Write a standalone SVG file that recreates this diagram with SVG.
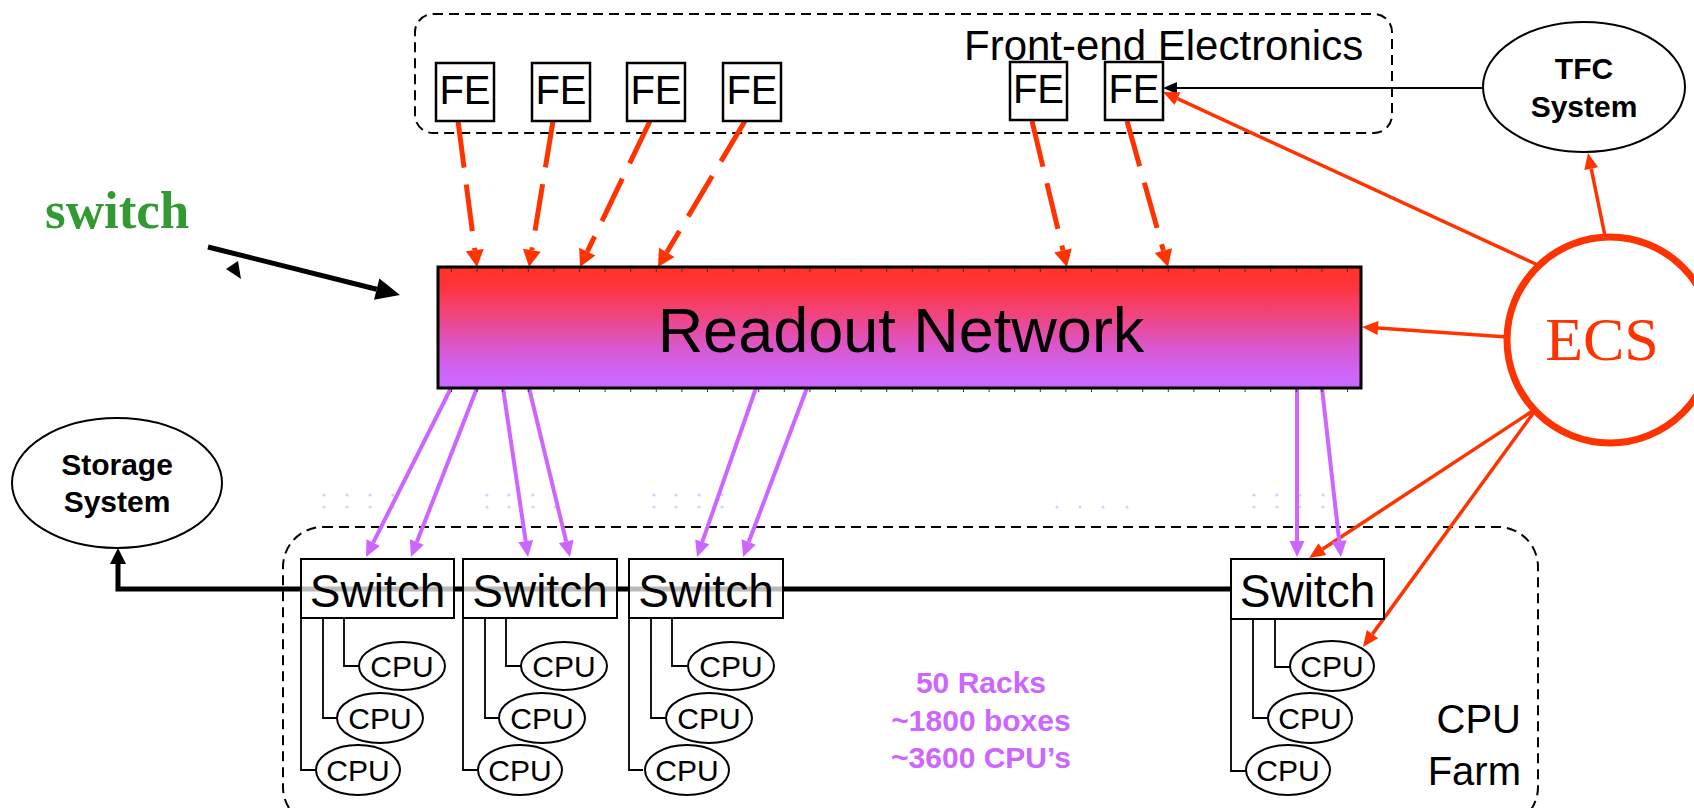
<svg xmlns="http://www.w3.org/2000/svg" width="1694" height="808" viewBox="0 0 1694 808">
<style>
.sans{font-family:"Liberation Sans",Arial,sans-serif}
.bold{font-family:"Liberation Sans",Arial,sans-serif;font-weight:bold}
.box{fill:#fff;stroke:#000;stroke-width:2}
.fe{fill:#fff;stroke:#000;stroke-width:2.5}
.sw{fill:#fff;fill-opacity:0.73;stroke:#000;stroke-width:2}
.cpu{fill:#fff;stroke:#000;stroke-width:2}
.wire{fill:none;stroke:#000;stroke-width:1.8}
.cont{fill:none;stroke:#000;stroke-width:2;stroke-dasharray:10 6}
.red{fill:none;stroke:#ff3300;stroke-width:3.5}
.reddash{fill:none;stroke:#ff3300;stroke-width:5;stroke-dasharray:47 17}
.vio{fill:none;stroke:#cc66ff;stroke-width:4}
.tick{stroke:#333;stroke-width:1}
.dot{fill:#e8c6ff}
.fetext{font-size:40px}
.swtext{font-size:46px}
.cputext{font-size:30px}
</style>
<defs>
<linearGradient id="rg" x1="0" y1="0" x2="0" y2="1">
<stop offset="0" stop-color="#ff3322"/>
<stop offset="0.12" stop-color="#ff3333"/>
<stop offset="0.4" stop-color="#f04480"/>
<stop offset="0.7" stop-color="#d65ad8"/>
<stop offset="0.9" stop-color="#cc66fa"/>
<stop offset="1" stop-color="#cc66ff"/>
</linearGradient>
<marker id="hRedBig" markerUnits="userSpaceOnUse" markerWidth="17" markerHeight="18" refX="0" refY="9" orient="auto" overflow="visible"><path d="M0,0 L17,9 L0,18 z" fill="#ff3300"/></marker>
<marker id="hRed" markerUnits="userSpaceOnUse" markerWidth="16" markerHeight="14" refX="0" refY="7" orient="auto" overflow="visible"><path d="M0,0 L16,7 L0,14 z" fill="#ff3300"/></marker>
<marker id="hVio" markerUnits="userSpaceOnUse" markerWidth="16" markerHeight="15" refX="0" refY="7.5" orient="auto" overflow="visible"><path d="M0,0 L16,7.5 L0,15 z" fill="#cc66ff"/></marker>
<marker id="hBlk" markerUnits="userSpaceOnUse" markerWidth="14" markerHeight="12" refX="0" refY="6" orient="auto" overflow="visible"><path d="M0,0 L14,6 L0,12 z" fill="#000"/></marker>
<marker id="hBlkMid" markerUnits="userSpaceOnUse" markerWidth="16" markerHeight="16" refX="0" refY="8" orient="auto" overflow="visible"><path d="M0,0 L16,8 L0,16 z" fill="#000"/></marker>
<marker id="hBlkBig" markerUnits="userSpaceOnUse" markerWidth="24" markerHeight="22" refX="0" refY="11" orient="auto" overflow="visible"><path d="M0,0 L24,11 L0,22 z" fill="#000"/></marker>
</defs>

<g id="frontend-container">
<rect class="cont" x="415" y="14" width="977" height="119" rx="18"/>
<text class="sans" x="964" y="60" font-size="42">Front-end Electronics</text>
</g>
<g id="cpufarm-container">
<rect class="cont" x="283" y="527" width="1255" height="300" rx="40"/>
<text class="sans" x="1521" y="733" font-size="40" text-anchor="end">CPU</text>
<text class="sans" x="1521" y="785" font-size="40" text-anchor="end">Farm</text>
</g>

<g id="faint-dots">
<circle class="dot" cx="324" cy="495" r="1.6"/><circle class="dot" cx="347" cy="495" r="1.6"/><circle class="dot" cx="370" cy="495" r="1.6"/><circle class="dot" cx="393" cy="495" r="1.6"/>
<circle class="dot" cx="324" cy="507" r="1.6"/><circle class="dot" cx="347" cy="507" r="1.6"/><circle class="dot" cx="370" cy="507" r="1.6"/><circle class="dot" cx="393" cy="507" r="1.6"/>
<circle class="dot" cx="487" cy="495" r="1.6"/><circle class="dot" cx="509" cy="495" r="1.6"/><circle class="dot" cx="533" cy="495" r="1.6"/><circle class="dot" cx="555" cy="495" r="1.6"/>
<circle class="dot" cx="487" cy="507" r="1.6"/><circle class="dot" cx="509" cy="507" r="1.6"/><circle class="dot" cx="533" cy="507" r="1.6"/><circle class="dot" cx="555" cy="507" r="1.6"/>
<circle class="dot" cx="654" cy="495" r="1.6"/><circle class="dot" cx="676" cy="495" r="1.6"/><circle class="dot" cx="699" cy="495" r="1.6"/><circle class="dot" cx="722" cy="495" r="1.6"/>
<circle class="dot" cx="654" cy="507" r="1.6"/><circle class="dot" cx="676" cy="507" r="1.6"/><circle class="dot" cx="699" cy="507" r="1.6"/><circle class="dot" cx="722" cy="507" r="1.6"/>
<circle class="dot" cx="1057" cy="507" r="1.6"/><circle class="dot" cx="1080" cy="507" r="1.6"/><circle class="dot" cx="1103" cy="507" r="1.6"/><circle class="dot" cx="1127" cy="507" r="1.6"/>
<circle class="dot" cx="1254" cy="495" r="1.6"/><circle class="dot" cx="1277" cy="495" r="1.6"/><circle class="dot" cx="1300" cy="495" r="1.6"/><circle class="dot" cx="1323" cy="495" r="1.6"/>
<circle class="dot" cx="1254" cy="507" r="1.6"/><circle class="dot" cx="1277" cy="507" r="1.6"/><circle class="dot" cx="1300" cy="507" r="1.6"/><circle class="dot" cx="1323" cy="507" r="1.6"/>
</g>

<g id="connectors">
<path d="M1232,589 H118 V564" fill="none" stroke="#000" stroke-width="5" marker-end="url(#hBlkMid)"/>
<line x1="208" y1="247" x2="376.7" y2="289.2" stroke="#000" stroke-width="5" marker-end="url(#hBlkBig)"/>
<polygon points="226,269 238,261 241,279" fill="#000"/>
<line class="reddash" x1="458" y1="121" x2="474.8" y2="250.1" marker-end="url(#hRedBig)"/>
<line class="reddash" x1="553" y1="121" x2="531.8" y2="250.2" marker-end="url(#hRedBig)"/>
<line class="reddash" x1="650" y1="121" x2="587.3" y2="251.7" marker-end="url(#hRedBig)"/>
<line class="reddash" x1="745" y1="121" x2="666.7" y2="252.4" marker-end="url(#hRedBig)"/>
<line class="reddash" x1="1032" y1="121" x2="1063" y2="250.5" marker-end="url(#hRedBig)"/>
<line class="reddash" x1="1127" y1="121" x2="1163.4" y2="250.6" marker-end="url(#hRedBig)"/>
<line x1="1483" y1="88" x2="1177" y2="88" stroke="#000" stroke-width="2" marker-end="url(#hBlk)"/>
<line class="red" x1="1540" y1="266" x2="1177.5" y2="98.7" marker-end="url(#hRed)"/>
<line class="red" x1="1605" y1="236" x2="1591.2" y2="168.7" marker-end="url(#hRed)"/>
<line class="red" x1="1507" y1="337" x2="1378" y2="328.1" marker-end="url(#hRed)"/>
<line class="red" x1="1537" y1="408" x2="1322.4" y2="549.2" marker-end="url(#hRed)"/>
<line class="red" x1="1537" y1="408" x2="1372.4" y2="634.1" marker-end="url(#hRed)"/>
<line class="vio" x1="451" y1="388" x2="373.2" y2="542.7" marker-end="url(#hVio)"/>
<line class="vio" x1="477" y1="388" x2="416.8" y2="542.1" marker-end="url(#hVio)"/>
<line class="vio" x1="503" y1="388" x2="525.7" y2="541.2" marker-end="url(#hVio)"/>
<line class="vio" x1="529" y1="388" x2="566.2" y2="541.5" marker-end="url(#hVio)"/>
<line class="vio" x1="756" y1="388" x2="702.3" y2="541.9" marker-end="url(#hVio)"/>
<line class="vio" x1="807" y1="388" x2="748.7" y2="542" marker-end="url(#hVio)"/>
<line class="vio" x1="1297" y1="388" x2="1297" y2="541" marker-end="url(#hVio)"/>
<line class="vio" x1="1322" y1="388" x2="1339.2" y2="541.1" marker-end="url(#hVio)"/>
</g>

<g id="switch-label">
<text x="45" y="228" font-family="Liberation Serif,'Times New Roman',serif" font-weight="bold" font-size="53" fill="#339933">switch</text>
</g>

<g id="fe1"><rect class="fe" x="436" y="63" width="58" height="58"/><text class="sans fetext" x="465" y="104" text-anchor="middle">FE</text></g>
<g id="fe2"><rect class="fe" x="532" y="63" width="58" height="58"/><text class="sans fetext" x="561" y="104" text-anchor="middle">FE</text></g>
<g id="fe3"><rect class="fe" x="627" y="63" width="58" height="58"/><text class="sans fetext" x="656" y="104" text-anchor="middle">FE</text></g>
<g id="fe4"><rect class="fe" x="723" y="63" width="58" height="58"/><text class="sans fetext" x="752" y="104" text-anchor="middle">FE</text></g>
<g id="fe5"><rect class="fe" x="1010" y="62" width="57" height="58"/><text class="sans fetext" x="1038.5" y="103" text-anchor="middle">FE</text></g>
<g id="fe6"><rect class="fe" x="1105" y="62" width="58" height="58"/><text class="sans fetext" x="1134" y="103" text-anchor="middle">FE</text></g>

<g id="tfc">
<ellipse cx="1584" cy="87" rx="101" ry="65" fill="#fff" stroke="#000" stroke-width="2"/>
<text class="bold" x="1584" y="79" font-size="30" text-anchor="middle">TFC</text>
<text class="bold" x="1584" y="117" font-size="30" text-anchor="middle">System</text>
</g>

<g id="ecs">
<circle cx="1610" cy="340" r="103" fill="#fff" stroke="#ff3300" stroke-width="7"/>
<text x="1602" y="360" font-family="Liberation Serif,'Times New Roman',serif" font-size="62" fill="#ff3300" text-anchor="middle">ECS</text>
</g>

<g id="readout">
<rect x="438" y="267" width="923" height="121" fill="url(#rg)" stroke="#000" stroke-width="3"/>
<path class="tick" d="M451.5,268v4M477.1,268v4M502.7,268v4M528.3,268v4M553.9,268v4M579.5,268v4M605.1,268v4M630.7,268v4M656.3,268v4M681.9,268v4M707.5,268v4M733.1,268v4M758.7,268v4M784.3,268v4M809.9,268v4M835.5,268v4M861.1,268v4M886.7,268v4M912.3,268v4M937.9,268v4M963.5,268v4M989.1,268v4M1014.7,268v4M1040.3,268v4M1065.9,268v4M1091.5,268v4M1117.1,268v4M1142.7,268v4M1168.3,268v4M1193.9,268v4M1219.5,268v4M1245.1,268v4M1270.7,268v4M1296.3,268v4M1321.9,268v4M1347.5,268v4"/>
<path class="tick" d="M451.5,389v3M477.1,389v3M502.7,389v3M528.3,389v3M553.9,389v3M579.5,389v3M605.1,389v3M630.7,389v3M656.3,389v3M681.9,389v3M707.5,389v3M733.1,389v3M758.7,389v3M784.3,389v3M809.9,389v3M835.5,389v3M861.1,389v3M886.7,389v3M912.3,389v3M937.9,389v3M963.5,389v3M989.1,389v3M1014.7,389v3M1040.3,389v3M1065.9,389v3M1091.5,389v3M1117.1,389v3M1142.7,389v3M1168.3,389v3M1193.9,389v3M1219.5,389v3M1245.1,389v3M1270.7,389v3M1296.3,389v3M1321.9,389v3M1347.5,389v3"/>
<text class="sans" x="901" y="352" font-size="63" text-anchor="middle">Readout Network</text>
</g>

<g id="storage">
<ellipse cx="117" cy="483" rx="105" ry="65" fill="#fff" stroke="#000" stroke-width="2"/>
<text class="bold" x="117" y="475" font-size="30" text-anchor="middle">Storage</text>
<text class="bold" x="117" y="512" font-size="30" text-anchor="middle">System</text>
</g>

<g id="rack1">
<path class="wire" d="M344,618V666H359M323,618V718H337M301,618V770H315"/>
<rect class="sw" x="301" y="559" width="153" height="59"/>
<text class="sans swtext" x="377.5" y="607" text-anchor="middle">Switch</text>
<ellipse class="cpu" cx="402" cy="666" rx="43" ry="24"/><text class="sans cputext" x="402" y="677" text-anchor="middle">CPU</text>
<ellipse class="cpu" cx="380" cy="718" rx="43" ry="25"/><text class="sans cputext" x="380" y="729" text-anchor="middle">CPU</text>
<ellipse class="cpu" cx="358" cy="770" rx="42" ry="25"/><text class="sans cputext" x="358" y="781" text-anchor="middle">CPU</text>
</g>
<g id="rack2">
<path class="wire" d="M506,618V666H521M485,618V718H499M463,618V770H477"/>
<rect class="sw" x="463" y="559" width="154" height="59"/>
<text class="sans swtext" x="540" y="607" text-anchor="middle">Switch</text>
<ellipse class="cpu" cx="564" cy="666" rx="43" ry="24"/><text class="sans cputext" x="564" y="677" text-anchor="middle">CPU</text>
<ellipse class="cpu" cx="542" cy="718" rx="43" ry="25"/><text class="sans cputext" x="542" y="729" text-anchor="middle">CPU</text>
<ellipse class="cpu" cx="520" cy="770" rx="42" ry="25"/><text class="sans cputext" x="520" y="781" text-anchor="middle">CPU</text>
</g>
<g id="rack3">
<path class="wire" d="M672,618V666H687M651,618V718H665M629,618V770H643"/>
<rect class="sw" x="629" y="559" width="154" height="59"/>
<text class="sans swtext" x="706" y="607" text-anchor="middle">Switch</text>
<ellipse class="cpu" cx="731" cy="666" rx="43" ry="24"/><text class="sans cputext" x="731" y="677" text-anchor="middle">CPU</text>
<ellipse class="cpu" cx="709" cy="718" rx="43" ry="25"/><text class="sans cputext" x="709" y="729" text-anchor="middle">CPU</text>
<ellipse class="cpu" cx="687" cy="770" rx="42" ry="25"/><text class="sans cputext" x="687" y="781" text-anchor="middle">CPU</text>
</g>
<g id="rack4">
<path class="wire" d="M1275,619V667H1290M1253,619V718H1268M1231,619V771H1246"/>
<rect class="sw" x="1231" y="559" width="153" height="60"/>
<text class="sans swtext" x="1307.5" y="607" text-anchor="middle">Switch</text>
<ellipse class="cpu" cx="1332" cy="666" rx="42" ry="25"/><text class="sans cputext" x="1332" y="677" text-anchor="middle">CPU</text>
<ellipse class="cpu" cx="1310" cy="718" rx="42" ry="25"/><text class="sans cputext" x="1310" y="729" text-anchor="middle">CPU</text>
<ellipse class="cpu" cx="1288" cy="770" rx="42" ry="25"/><text class="sans cputext" x="1288" y="781" text-anchor="middle">CPU</text>
</g>

<g id="farm-stats">
<text class="bold" x="981" y="693" font-size="30" fill="#cc66ff" text-anchor="middle">50 Racks</text>
<text class="bold" x="981" y="731" font-size="30" fill="#cc66ff" text-anchor="middle">~1800 boxes</text>
<text class="bold" x="981" y="768" font-size="30" fill="#cc66ff" text-anchor="middle">~3600 CPU’s</text>
</g>
</svg>
